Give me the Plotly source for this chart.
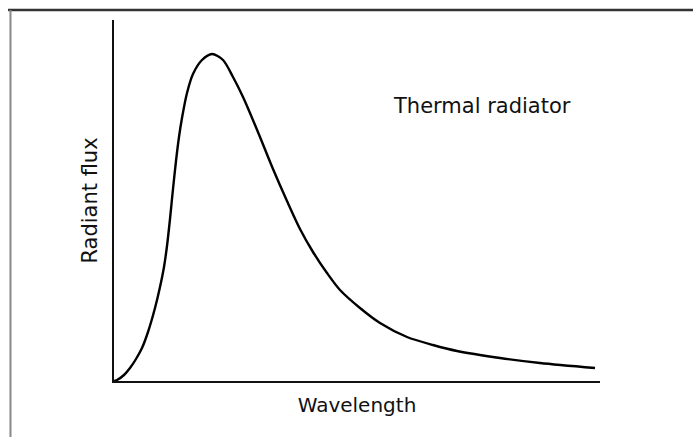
import plotly.graph_objects as go

# (arbitrary units: wavelength and radiant flux)
wavelength = [0, 3, 10, 16, 22, 28, 34, 41, 46, 50, 53, 56, 59, 62, 65, 68, 73, 79, 88,
              98, 109, 119, 129, 136, 146, 159, 173, 186, 199, 213, 226, 246, 266, 293,
              319, 343, 386, 426, 481]
radiant_flux = [0, 1, 6, 13, 22, 33, 49, 73, 94, 114, 135, 162, 192, 220, 244, 263, 288,
                307, 321, 327, 321, 304, 284, 268, 244, 212, 180, 152, 129, 108, 91, 73,
                58, 44, 36, 30, 23, 18, 13]

x_label = "Wavelength"
y_label = "Radiant flux"
curve_label = "Thermal radiator"

fig = go.Figure()
fig.add_trace(go.Scatter(
    x=wavelength, y=radiant_flux, mode="lines",
    line=dict(color="black", width=2.4, shape="spline", smoothing=0.8),
    hoverinfo="skip", showlegend=False, cliponaxis=False,
))

font = dict(family="DejaVu Sans, Liberation Sans, sans-serif", color="#111")

fig.update_layout(
    width=693, height=437,
    margin=dict(l=114, r=93, t=20, b=56, autoexpand=False),
    paper_bgcolor="white", plot_bgcolor="white",
    font=font,
    xaxis=dict(range=[0, 486], showgrid=False, zeroline=False, showticklabels=False,
               ticks="", showline=True, linecolor="#111", linewidth=2,
               title=dict(text=x_label, font=dict(size=20), standoff=16),
               automargin=False, fixedrange=True),
    yaxis=dict(range=[0, 361], showgrid=False, zeroline=False, showticklabels=False,
               ticks="", showline=True, linecolor="#111", linewidth=2,
               title=dict(text=y_label, font=dict(size=21), standoff=9),
               automargin=False, fixedrange=True),
    annotations=[dict(text=curve_label, x=368, y=275, xref="x", yref="y",
                      showarrow=False, font=dict(size=21, color="#111"))],
    shapes=[
        dict(type="line", xref="paper", yref="paper",
             x0=-0.218, x1=1.3, y0=(381 - 10) / 361, y1=(381 - 10) / 361,
             line=dict(color="#333", width=2.5)),
        dict(type="line", xref="paper", yref="paper",
             x0=-0.213, x1=-0.213, y0=(381 - 10) / 361, y1=-0.2,
             line=dict(color="#888", width=2)),
    ],
)

fig.write_html("out.html", config={"displayModeBar": False},
               post_script="document.body.style.margin='0';")
